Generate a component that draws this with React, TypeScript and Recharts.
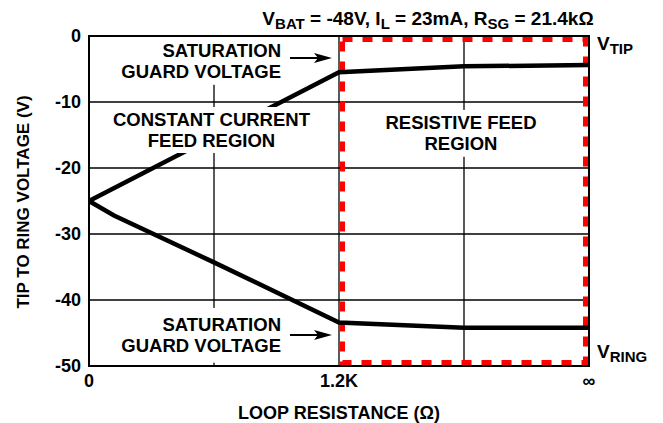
import { CartesianGrid, Line, LineChart, ReferenceArea, ReferenceLine, XAxis, YAxis } from 'recharts'

const xTicks = [0, 1, 2, 3, 4]
const xTickLabels = ['0', '', '1.2K', '', '∞']
const yTicks = [0, -10, -20, -30, -40, -50]

const tipX = [0, 2, 3, 4]
const tipV = [-25, -5.5, -4.6, -4.4]

const ringX = [0, 0.2, 1, 2, 3, 4]
const ringV = [-25, -27.2, -34.3, -43.4, -44.2, -44.2]

const satNote = ['SATURATION', 'GUARD VOLTAGE']
const ccNote = ['CONSTANT CURRENT', 'FEED REGION']
const rfNote = ['RESISTIVE FEED', 'REGION']

const tipData = tipX.map((x, i) => ({ x, v: tipV[i] }))
const ringData = ringX.map((x, i) => ({ x, v: ringV[i] }))

const font = '"Liberation Sans", Arial, Helvetica, sans-serif'

const RedFrame = (p: any) => (
  <rect
    x={p.x + 3.5}
    y={p.y + 3.5}
    width={p.width - 7}
    height={p.height - 7}
    fill='none'
    stroke='#ff0000'
    strokeWidth={5}
    strokeDasharray='10 10'
  />
)

const Border = (p: any) => (
  <rect x={p.x} y={p.y} width={p.width} height={p.height} fill='none' stroke='#000' strokeWidth={2} />
)

const noteBox = (lines: string[], anchor: 'middle' | 'end') => (p: any) => {
  const tx = anchor === 'end' ? p.x + p.width - 6 : p.x + p.width / 2
  const cy = p.y + p.height / 2
  return (
    <g>
      <rect x={p.x} y={p.y} width={p.width} height={p.height} fill='#fff' />
      <text fontFamily={font} fontWeight='bold' fontSize={18.5} fill='#000' textAnchor={anchor}>
        {lines.map((l, i) => (
          <tspan key={i} x={tx} y={cy - 4 + 21 * i}>
            {l}
          </tspan>
        ))}
      </text>
    </g>
  )
}

const Arrow = (p: any) => {
  const { x1, y1, x2 } = p
  return (
    <g>
      <line x1={x1} y1={y1} x2={x2 - 12} y2={y1} stroke='#000' strokeWidth={2} />
      <polygon points={`${x2},${y1} ${x2 - 18},${y1 - 5} ${x2 - 14},${y1} ${x2 - 18},${y1 + 5}`} fill='#000' />
    </g>
  )
}

const YLabel = (props: any) => {
  const vb = props.viewBox || { x: 0, y: 36, width: 89, height: 330 }
  const cx = vb.x + 29
  const cy = vb.y + vb.height / 2 + 1
  return (
    <text
      x={cx}
      y={cy}
      transform={`rotate(-90, ${cx}, ${cy})`}
      textAnchor='middle'
      fontFamily={font}
      fontWeight='bold'
      fontSize={17}
      fill='#000'
    >
      TIP TO RING VOLTAGE (V)
    </text>
  )
}

export default function App() {
  return (
    <div style={{ position: 'absolute', left: 0, top: 0, width: 663, height: 423, background: '#fff' }}>
      <LineChart width={663} height={423} margin={{ top: 36, right: 74, bottom: 0, left: 0 }}>
        <CartesianGrid stroke='#000' strokeWidth={1.3} strokeOpacity={1} />
        <XAxis
          dataKey='x'
          type='number'
          domain={[0, 4]}
          ticks={xTicks}
          interval={0}
          tickFormatter={(v) => xTickLabels[xTicks.indexOf(v)]}
          height={57}
          tickLine={false}
          axisLine={{ stroke: '#000', strokeWidth: 2 }}
          tick={{ fill: '#000', fontSize: 18, fontWeight: 'bold', fontFamily: font }}
          label={{
            value: 'LOOP RESISTANCE (Ω)',
            position: 'insideBottom',
            offset: 4,
            fill: '#000',
            fontSize: 18,
            fontWeight: 'bold',
            fontFamily: font,
          }}
        />
        <YAxis
          type='number'
          domain={[-50, 0]}
          ticks={yTicks}
          interval={0}
          width={89}
          tickLine={false}
          axisLine={{ stroke: '#000', strokeWidth: 2 }}
          tick={{ fill: '#000', fontSize: 18, fontWeight: 'bold', fontFamily: font }}
          label={{ content: YLabel }}
        />
        <ReferenceArea x1={2} x2={4} y1={-50} y2={0} shape={RedFrame} zIndex={100} />
        <Line
          data={tipData}
          dataKey='v'
          type='linear'
          stroke='#000'
          strokeWidth={4.5}
          dot={false}
          isAnimationActive={false}
        />
        <Line
          data={ringData}
          dataKey='v'
          type='linear'
          stroke='#000'
          strokeWidth={4.5}
          dot={false}
          isAnimationActive={false}
        />
        <ReferenceArea x1={0} x2={4} y1={-50} y2={0} shape={Border} zIndex={450} />
        <ReferenceArea x1={0.2} x2={1.584} y1={-7.4} y2={-0.15} shape={noteBox(satNote, 'end')} zIndex={1500} />
        <ReferenceArea x1={0.152} x2={1.808} y1={-17.73} y2={-10.76} shape={noteBox(ccNote, 'middle')} zIndex={1500} />
        <ReferenceArea x1={2.328} x2={3.624} y1={-18.3} y2={-11.2} shape={noteBox(rfNote, 'middle')} zIndex={1500} />
        <ReferenceArea x1={0.2} x2={1.584} y1={-49.5} y2={-41.2} shape={noteBox(satNote, 'end')} zIndex={1500} />
        <ReferenceLine
          segment={[
            { x: 1.608, y: -3.33 },
            { x: 1.944, y: -3.33 },
          ]}
          shape={Arrow}
          zIndex={1600}
        />
        <ReferenceLine
          segment={[
            { x: 1.608, y: -45.3 },
            { x: 1.944, y: -45.3 },
          ]}
          shape={Arrow}
          zIndex={1600}
        />
      </LineChart>
      <svg
        width={663}
        height={423}
        style={{ position: 'absolute', left: 0, top: 0, pointerEvents: 'none' }}
        fontFamily={font}
        fontWeight='bold'
        fill='#000'
      >
        <text x={428} y={25} textAnchor='middle' fontSize={19}>
          V<tspan fontSize={15} dy={4}>BAT</tspan>
          <tspan dy={-4}> = -48V, I</tspan>
          <tspan fontSize={15} dy={4}>L</tspan>
          <tspan dy={-4}> = 23mA, R</tspan>
          <tspan fontSize={15} dy={4}>SG</tspan>
          <tspan dy={-4}> = 21.4kΩ</tspan>
        </text>
        <text x={597} y={50} fontSize={19}>
          V<tspan fontSize={15} dy={4}>TIP</tspan>
        </text>
        <text x={597} y={358} fontSize={19}>
          V<tspan fontSize={15} dy={4}>RING</tspan>
        </text>
      </svg>
    </div>
  )
}
